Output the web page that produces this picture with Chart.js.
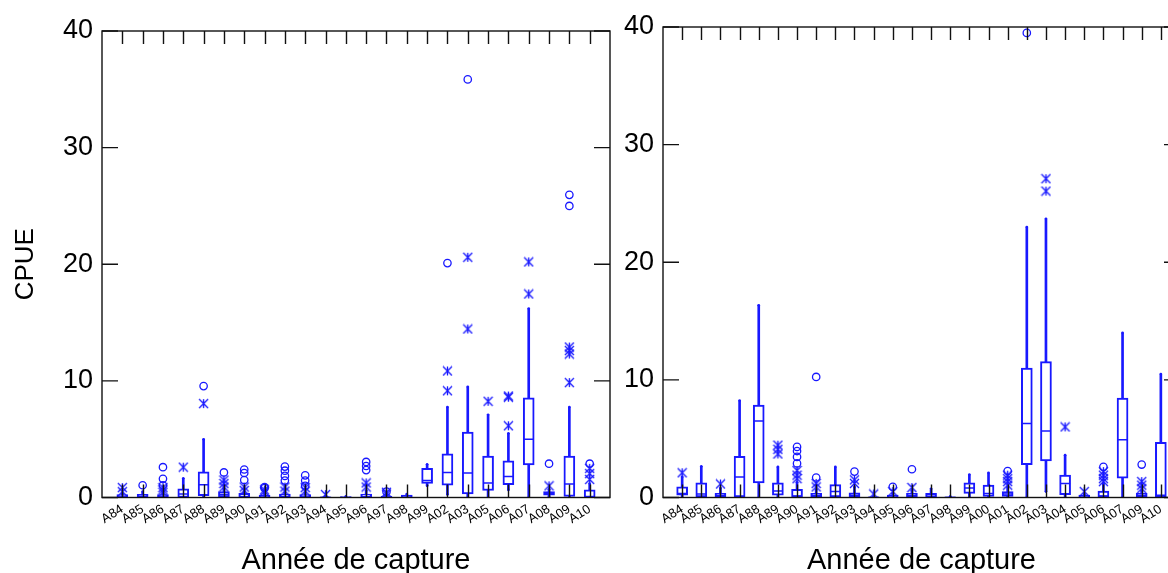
<!DOCTYPE html>
<html>
<head>
<meta charset="utf-8">
<script src="https://cdn.jsdelivr.net/npm/chart.js@4.4.0/dist/chart.umd.min.js"></script>
<style>
  html, body { margin: 0; padding: 0; background: #fff; overflow: hidden; width: 1168px; height: 573px; }
  #left  { position: absolute; left: 0;     top: 0; }
  #right { position: absolute; left: 620px; top: 0; }
</style>
</head>
<body>
<canvas id="left" width="620" height="573"></canvas>
<canvas id="right" width="580" height="573"></canvas>
<script>
// ---- Panel 1: CPUE by capture year ----
const yearsA = ['A84','A85','A86','A87','A88','A89','A90','A91','A92','A93','A94','A95',
                'A96','A97','A98','A99','A02','A03','A05','A06','A07','A08','A09','A10'];
const loA  = [0, 0, 0, 0, 0,    0,    0, 0, 0, 0, 0, 0, 0, 0, 0, 1.0, 0.25, 0,   0,    0.65, 0,    0.1,  0,    0];
const q1A  = [0, 0, 0, 0, 0.15, 0.05, 0, 0, 0, 0, 0, 0, 0, 0, 0, 1.2, 1.05, 0.3, 0.6,  1.1,  2.8,  0.2,  0.1,  0];
const medA = [0.05, 0.1, 0.05, 0.3, 1.1, 0.25, 0.05, 0.05, 0.05, 0.05, 0, 0, 0.05, 0.02, 0.05,
              1.45, 2.15, 2.1, 1.25, 1.8, 5.0, 0.35, 1.15, 0.05];
const q3A  = [0.25, 0.28, 0.25, 0.75, 2.2, 0.5, 0.35, 0.2, 0.3, 0.25, 0.05, 0.08, 0.3, 0.1, 0.2,
              2.5, 3.75, 5.6, 3.55, 3.15, 8.55, 0.5, 3.55, 0.65];
const hiA  = [0.35, 0.5, 0.5, 1.65, 5.0, 0.8, 0.55, 0.4, 0.45, 0.45, 0.1, 0.1, 0.6, 0.2, 0.3,
              2.85, 7.75, 9.5, 7.1, 5.5, 16.2, 0.7, 7.75, 1.2];
const nearA = [[0.5, 0.85], [], [0.45, 0.65, 0.85], [2.6], [8.05], [0.9, 1.2, 1.5], [0.6, 0.9],
               [0.5, 0.65], [0.55, 0.9], [0.55, 0.85], [0.25], [], [0.9, 1.25], [0.3, 0.45], [], [],
               [9.15, 10.85], [14.45, 20.6], [8.25], [6.15, 8.6, 8.7], [17.45, 20.2], [1.0],
               [9.85, 12.3, 12.6, 12.9], [1.55, 2.05, 2.5]];
const farA  = [[], [1.05], [1.05, 1.6, 2.6], [], [9.55], [2.15], [1.5, 2.1, 2.4], [0.8, 0.9],
               [1.45, 1.85, 2.3, 2.65], [1.0, 1.45, 1.9], [], [], [2.35, 2.7, 3.05], [0.5], [], [],
               [20.1], [35.85], [], [], [], [2.9], [25.0, 25.95], [2.9]];

// ---- Panel 2: CPUE by capture year ----
const yearsB = ['A84','A85','A86','A87','A88','A89','A90','A91','A92','A93','A94','A95','A96',
                'A97','A98','A99','A00','A01','A02','A03','A04','A05','A06','A07','A09','A10'];
const loB  = [0, 0, 0, 0, 0, 0, 0, 0, 0, 0, 0, 0, 0, 0, 0, 0, 0, 0, 0, 0.5, 0, 0, 0, 0, 0, 0];
const q1B  = [0.2, 0.05, 0.05, 0.05, 1.25, 0.2, 0.05, 0.05, 0.05, 0.05, 0, 0, 0.05, 0, 0,
              0.35, 0.1, 0.1, 2.8, 3.1, 0.25, 0, 0.05, 1.65, 0.05, 0.05];
const medB = [0.35, 0.3, 0.15, 1.75, 6.5, 0.55, 0.1, 0.15, 0.5, 0.2, 0, 0.05, 0.15, 0.1, 0,
              0.8, 0.35, 0.3, 6.3, 5.65, 1.2, 0.05, 0.1, 4.9, 0.15, 0.2];
const q3B  = [0.9, 1.25, 0.35, 3.5, 7.85, 1.25, 0.7, 0.35, 1.1, 0.4, 0.05, 0.2, 0.35, 0.35, 0.05,
              1.25, 1.05, 0.5, 11.0, 11.55, 1.9, 0.2, 0.55, 8.45, 0.35, 4.7];
const hiB  = [1.75, 2.65, 0.8, 8.25, 16.35, 2.6, 1.3, 0.7, 2.6, 0.9, 0.1, 0.35, 0.6, 0.75, 0.1,
              1.95, 2.1, 0.9, 23.0, 23.7, 3.6, 0.3, 1.2, 14.0, 0.6, 10.5];
const nearB = [[2.1], [], [1.15], [], [], [3.7, 4.1, 4.45], [1.6, 1.9, 2.3], [0.9, 1.2], [],
               [1.2, 1.5], [0.3], [0.5], [0.85], [], [], [], [], [1.05, 1.35, 1.6, 1.9], [],
               [26.05, 27.1], [6.0], [0.5], [1.35, 1.6, 1.9, 2.2], [], [0.75, 1.05, 1.35], []];
const farB  = [[], [], [], [], [], [], [2.9, 3.45, 3.95, 4.3], [1.7, 10.25], [], [2.2], [], [0.9],
               [2.4], [], [], [], [], [2.25], [39.5], [], [], [], [2.6], [], [2.8], []];

const yTicks = [0, 10, 20, 30, 40];
const xTitle = 'Année de capture';
const yTitle = 'CPUE';

const BLUE = 'rgb(24,24,255)';
const INK = '#111';
const FONT = "'Liberation Sans', Arial, sans-serif";

// asterisk marker (X with a vertical stroke)
function makeAsterisk(size, color, lw) {
  const c = document.createElement('canvas');
  c.width = c.height = size;
  const g = c.getContext('2d');
  g.strokeStyle = color;
  g.lineWidth = lw;
  const m = size / 2, r = size / 2 - 1;
  g.beginPath();
  g.moveTo(m - r, m - r); g.lineTo(m + r, m + r);
  g.moveTo(m + r, m - r); g.lineTo(m - r, m + r);
  g.moveTo(m, m - r); g.lineTo(m, m + r);
  g.stroke();
  return c;
}
const asterisk = makeAsterisk(11, BLUE, 1.3);

function boxDatasets(years, lo, q1, med, q3, hi, near, far) {
  const idx = years.map((_, i) => i);
  return [
    { type: 'bar', order: 5, grouped: false, barThickness: 2,
      data: idx.map(i => ({ x: i, y: [lo[i], hi[i]] })),
      backgroundColor: BLUE, borderWidth: 0 },
    { type: 'bar', order: 4, grouped: false, barThickness: 11,
      data: idx.map(i => ({ x: i, y: [q1[i], q3[i]] })),
      backgroundColor: '#fff', borderColor: BLUE, borderWidth: 2, borderSkipped: false },
    { type: 'scatter', order: 3,
      data: idx.map(i => ({ x: i, y: med[i] })),
      pointStyle: 'line', radius: 5, borderColor: BLUE, borderWidth: 1.5 },
    { type: 'scatter', order: 2,
      data: idx.flatMap(i => [{ x: i, y: lo[i] }, { x: i, y: hi[i] }]),
      pointStyle: 'circle', radius: 1.3, backgroundColor: BLUE, borderWidth: 0 },
    { type: 'scatter', order: 1,
      data: idx.flatMap(i => near[i].map(v => ({ x: i, y: v }))),
      pointStyle: asterisk },
    { type: 'scatter', order: 1,
      data: idx.flatMap(i => far[i].map(v => ({ x: i, y: v }))),
      pointStyle: 'circle', radius: 3.7, borderColor: BLUE, borderWidth: 1.3,
      backgroundColor: 'rgba(0,0,0,0)' }
  ];
}

// frame with inward ticks on all four sides
const framePlugin = {
  id: 'frame',
  afterDraw(chart) {
    const { ctx, chartArea: a, scales: { x, y } } = chart;
    const n = chart.options.plugins.frame.count;
    ctx.save();
    ctx.strokeStyle = INK;
    ctx.lineWidth = 1.4;
    ctx.strokeRect(a.left, a.top, a.right - a.left, a.bottom - a.top);
    ctx.beginPath();
    for (let i = 0; i < n; i++) {
      const px = Math.round(x.getPixelForValue(i)) + 0.5;
      ctx.moveTo(px, a.top); ctx.lineTo(px, a.top + 13);
      ctx.moveTo(px, a.bottom); ctx.lineTo(px, a.bottom - 13);
    }
    yTicks.forEach(v => {
      const py = y.getPixelForValue(v);
      ctx.moveTo(a.left, py); ctx.lineTo(a.left + 16, py);
      ctx.moveTo(a.right, py); ctx.lineTo(a.right - 16, py);
    });
    ctx.stroke();
    ctx.restore();
  }
};

function makePanel(id, years, series, opts) {
  return new Chart(document.getElementById(id), {
    type: 'bar',
    data: { datasets: boxDatasets(years, ...series) },
    options: {
      responsive: false,
      animation: false,
      layout: { padding: { left: 0, top: opts.top, right: opts.right, bottom: 0 } },
      plugins: { legend: { display: false }, tooltip: { enabled: false },
                 frame: { count: years.length } },
      scales: {
        x: {
          type: 'linear', min: -1, max: years.length, offset: false,
          grid: { display: false, drawTicks: false }, border: { display: false },
          ticks: {
            stepSize: 1, autoSkip: false, minRotation: 32, maxRotation: 32, padding: 4,
            color: '#000', font: { family: FONT, size: 13 },
            callback: v => years[Math.round(v)] ?? ''
          },
          title: { display: true, text: xTitle, color: '#000',
                   font: { family: FONT, size: 29 }, padding: { top: 0, bottom: -5 } },
          afterFit: s => { s.height = 75.5; s.paddingLeft = 0; s.paddingRight = 0; }
        },
        y: {
          min: 0, max: 40,
          grid: { display: false, drawTicks: false }, border: { display: false },
          ticks: { stepSize: 10, padding: 9, color: '#000', font: { family: FONT, size: 27 } },
          title: { display: opts.yTitle, text: yTitle, color: '#000',
                   font: { family: FONT, size: 26 }, padding: { top: 10, bottom: 0 } },
          afterFit: s => { s.width = opts.yWidth; s.paddingTop = 0; s.paddingBottom = 0; }
        }
      }
    },
    plugins: [framePlugin]
  });
}

makePanel('left', yearsA, [loA, q1A, medA, q3A, hiA, nearA, farA],
          { top: 31, right: 10, yWidth: 102, yTitle: true });
makePanel('right', yearsB, [loB, q1B, medB, q3B, hiB, nearB, farB],
          { top: 27, right: 20, yWidth: 43, yTitle: false });
</script>
</body>
</html>
